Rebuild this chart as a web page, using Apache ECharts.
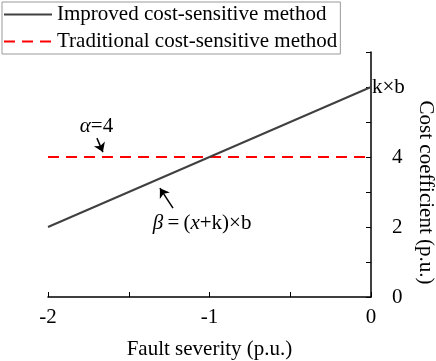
<!DOCTYPE html>
<html>
<head>
<meta charset="utf-8">
<script src="https://cdn.jsdelivr.net/npm/echarts@6/dist/echarts.min.js"></script>
<style>
  html, body { margin: 0; padding: 0; background: #fff; }
  #chart { width: 436px; height: 361px; }
</style>
</head>
<body>
<div id="chart"></div>
<script>
// series data (x = fault severity, y = cost coefficient)
var improvedData = [[-2, 2], [0, 6]];
var traditionalData = [[-2, 4], [0, 4]];
var seriesNames = ['Improved cost-sensitive method', 'Traditional cost-sensitive method'];

// annotation texts and their anchor points in data space
var alphaLabel = [-1.70, 4.86];
var alphaArrow = [[-1.697, 4.54], [-1.66, 4.14]];
var betaLabel = [-1.046, 2.11];
var betaArrow = [[-1.226, 2.54], [-1.307, 3.11]];
var endLabel = [0, 6];

var FONT = '"Liberation Serif", "DejaVu Serif", serif';
var FS = 21;

var chart = echarts.init(document.getElementById('chart'));

var option = {
	animation: false,
	textStyle: { fontFamily: FONT },
	legend: {
		orient: 'vertical',
		left: 2,
		top: 2,
		padding: [2, 3, 2, 1],
		itemWidth: 48,
		itemHeight: 14,
		itemGap: 6,
		borderColor: '#999',
		borderWidth: 1,
		itemStyle: { opacity: 0 },
		textStyle: { fontFamily: FONT, fontSize: FS, color: '#000' },
		data: seriesNames
	},
	grid: { left: 48, right: 65, top: 52, bottom: 64, outerBoundsMode: 'none' },
	xAxis: {
		type: 'value',
		min: -2,
		max: 0,
		interval: 0.5,
		name: 'Fault severity (p.u.)',
		nameLocation: 'middle',
		nameGap: 42,
		nameTextStyle: { fontFamily: FONT, fontSize: FS, color: '#000' },
		axisLine: { lineStyle: { color: '#000', width: 1.5 } },
		axisTick: { inside: true, length: 5, lineStyle: { color: '#000' } },
		axisLabel: {
			fontFamily: FONT, fontSize: FS, color: '#000', margin: 10,
			formatter: function(v) { return v % 1 === 0 ? String(v) : ''; }
		},
		splitLine: { show: false }
	},
	yAxis: {
		type: 'value',
		position: 'right',
		min: 0,
		max: 7,
		interval: 1,
		name: 'Cost coefficient (p.u.)',
		nameLocation: 'middle',
		nameRotate: -90,
		nameGap: 44,
		nameTextStyle: { fontFamily: FONT, fontSize: FS, color: '#000', padding: [0, 0, 0, 36] },
		axisLine: { show: true, lineStyle: { color: '#000', width: 1.5 } },
		axisTick: { inside: true, length: 5, lineStyle: { color: '#000' } },
		axisLabel: {
			fontFamily: FONT, fontSize: FS, color: '#000', margin: 21,
			formatter: function(v) { return (v % 2 === 0 && v <= 4) ? String(v) : ''; }
		},
		splitLine: { show: false }
	},
	series: [
		{
			name: seriesNames[0],
			type: 'line',
			symbol: 'none',
			lineStyle: { color: '#404040', width: 2 },
			itemStyle: { color: '#404040' },
			data: improvedData,
			z: 3,
			markLine: {
				silent: true,
				symbol: ['none', 'arrow'],
				symbolSize: 9,
				label: { show: false },
				lineStyle: { color: '#000', width: 1.5, type: 'solid' },
				data: [
					[{ coord: alphaArrow[0] }, { coord: alphaArrow[1] }],
					[{ coord: betaArrow[0] }, { coord: betaArrow[1] }]
				]
			}
		},
		{
			name: seriesNames[1],
			type: 'line',
			symbol: 'none',
			lineStyle: { color: '#ff0000', width: 2, type: [11, 7] },
			itemStyle: { color: '#ff0000' },
			data: traditionalData,
			z: 2
		},
		{
			type: 'scatter',
			symbolSize: 0,
			silent: true,
			itemStyle: { opacity: 1 },
			label: {
				show: true,
				fontFamily: FONT,
				fontSize: FS,
				color: '#000',
				formatter: function(p) { return p.data.text; },
				rich: {
					i: { fontFamily: FONT, fontSize: FS, fontStyle: 'italic', color: '#000' },
					n: { fontFamily: FONT, fontSize: FS, color: '#000' }
				}
			},
			data: [
				{ value: alphaLabel, text: '{i|α}{n|=4}', label: { position: 'inside' } },
				{ value: betaLabel, text: '{i|β}{n|\u2009=\u2009(}{i|x}{n|+k)×b}', label: { position: 'inside' } },
				{ value: endLabel, text: '{n|k×b}', label: { position: 'right', distance: 1 } }
			]
		}
	]
};

chart.setOption(option);
</script>
</body>
</html>
